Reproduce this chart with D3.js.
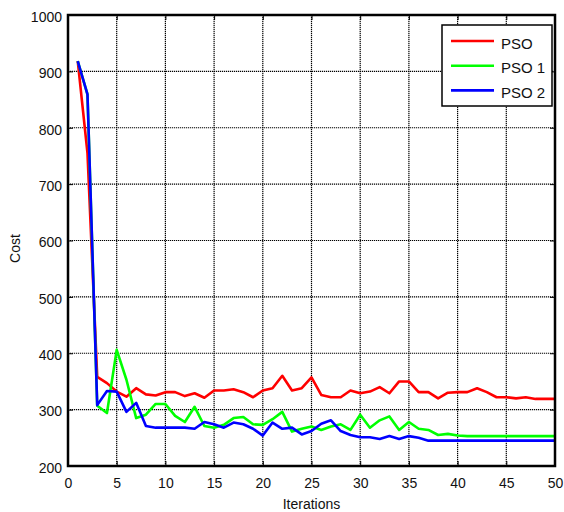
<!DOCTYPE html>
<html>
<head>
<meta charset="utf-8">
<script src="https://cdn.jsdelivr.net/npm/d3@7"></script>
<style>
  html, body { margin: 0; padding: 0; background: #fff; }
  svg { display: block; font-family: "Liberation Sans", Arial, sans-serif; }
</style>
</head>
<body>
<svg id="chart" width="564" height="512"></svg>
<script>
const iterations = d3.range(1, 51);
const seriesNames = ["PSO", "PSO 1", "PSO 2"];
const seriesColors = ["#ff0000", "#00ff00", "#0000ff"];
const psoValues = [918, 755, 358, 347, 332, 323, 338, 327, 325, 331,
  331, 324, 329, 321, 334, 334, 336, 331, 322, 334,
  338, 360, 334, 338, 357, 326, 322, 322, 334, 329,
  332, 340, 329, 350, 350, 331, 331, 320, 330, 331,
  331, 338, 331, 322, 322, 320, 322, 319, 319, 319];
const pso1Values = [918, 859, 307, 294, 406, 353, 285, 291, 310, 310,
  289, 278, 305, 271, 268, 273, 285, 287, 274, 273,
  283, 296, 261, 266, 270, 264, 270, 274, 264, 291,
  268, 281, 288, 264, 278, 266, 264, 255, 257, 254,
  253, 253, 253, 253, 253, 253, 253, 253, 253, 253];
const pso2Values = [918, 859, 308, 333, 332, 296, 312, 271, 268, 268,
  268, 268, 266, 278, 274, 268, 277, 274, 266, 254,
  277, 266, 268, 256, 262, 275, 281, 262, 255, 251,
  251, 248, 253, 248, 253, 250, 245, 245, 245, 245,
  245, 245, 245, 245, 245, 245, 245, 245, 245, 245];
const xTicks = [0, 5, 10, 15, 20, 25, 30, 35, 40, 45, 50];
const yTicks = [200, 300, 400, 500, 600, 700, 800, 900, 1000];

const allSeries = [psoValues, pso1Values, pso2Values];

(function () {
const svg = d3.select("#chart");
const pL = 68, pR = 555, pT = 15, pB = 466;

const x = d3.scaleLinear().domain([0, 50]).range([pL, pR]);
const y = d3.scaleLinear().domain([200, 1000]).range([pB, pT]);

// grid
const grid = svg.append("g");
grid.selectAll("line.gx").data(xTicks.slice(1, -1)).join("line")
  .attr("x1", d => x(d)).attr("x2", d => x(d))
  .attr("y1", pT).attr("y2", pB)
  .attr("stroke", "#000").attr("stroke-width", 1.2).attr("stroke-dasharray", "1.2,0.8");
grid.selectAll("line.gy").data(yTicks.slice(1, -1)).join("line")
  .attr("x1", pL).attr("x2", pR)
  .attr("y1", d => y(d)).attr("y2", d => y(d))
  .attr("stroke", "#000").attr("stroke-width", 1.2).attr("stroke-dasharray", "1.2,0.8");

// lines
const line = d3.line().x((d, i) => x(iterations[i])).y(d => y(d));
svg.append("g").selectAll("path").data(allSeries).join("path")
  .attr("d", d => line(d))
  .attr("fill", "none")
  .attr("stroke", (d, i) => seriesColors[i])
  .attr("stroke-width", 2.6)
  .attr("stroke-linejoin", "round");

// axes (ticks inward)
const tickLen = 5;
const fmt = d3.format("d");
const xAxis = svg.append("g").attr("transform", `translate(0,${pB})`)
  .call(d3.axisBottom(x).tickValues(xTicks).tickSize(-tickLen).tickPadding(12).tickFormat(fmt));
const xAxisTop = svg.append("g").attr("transform", `translate(0,${pT})`)
  .call(d3.axisTop(x).tickValues(xTicks).tickSize(-tickLen).tickFormat(""));
const yAxis = svg.append("g").attr("transform", `translate(${pL},0)`)
  .call(d3.axisLeft(y).tickValues(yTicks).tickSize(-tickLen).tickPadding(6).tickFormat(fmt));
const yAxisRight = svg.append("g").attr("transform", `translate(${pR},0)`)
  .call(d3.axisRight(y).tickValues(yTicks).tickSize(-tickLen).tickFormat(""));
[xAxis, xAxisTop, yAxis, yAxisRight].forEach(g => {
  g.select(".domain").remove();
  g.selectAll(".tick line").attr("stroke", "#000").attr("stroke-width", 1);
  g.selectAll("text").attr("font-size", 14).attr("fill", "#111")
    .attr("font-family", '"Liberation Sans", Arial, sans-serif');
});
yAxis.selectAll("text").attr("dy", "0.45em");

// frame
svg.append("rect").attr("x", pL).attr("y", pT)
  .attr("width", pR - pL).attr("height", pB - pT)
  .attr("fill", "none").attr("stroke", "#000").attr("stroke-width", 2.5);

// axis titles
svg.append("text").attr("x", (pL + pR) / 2).attr("y", 509)
  .attr("text-anchor", "middle").attr("font-size", 14).attr("fill", "#111")
  .text("Iterations");
svg.append("text").attr("transform", `translate(20,${(pT + pB) / 2 + 8}) rotate(-90)`)
  .attr("text-anchor", "middle").attr("font-size", 14).attr("fill", "#111")
  .text("Cost");

// legend
const lg = svg.append("g");
lg.append("rect").attr("x", 442).attr("y", 25).attr("width", 110).attr("height", 81)
  .attr("fill", "#fff").attr("stroke", "#000").attr("stroke-width", 1.5);
const rows = lg.selectAll("g.row").data(seriesNames).join("g")
  .attr("transform", (d, i) => `translate(0,${41 + i * 24.7})`);
rows.append("line").attr("x1", 451).attr("x2", 494).attr("y1", 0).attr("y2", 0)
  .attr("stroke", (d, i) => seriesColors[i]).attr("stroke-width", 2.6);
rows.append("text").attr("x", 501).attr("y", 7.5).attr("font-size", 15).attr("fill", "#111")
  .text(d => d);
})();
</script>
</body>
</html>
